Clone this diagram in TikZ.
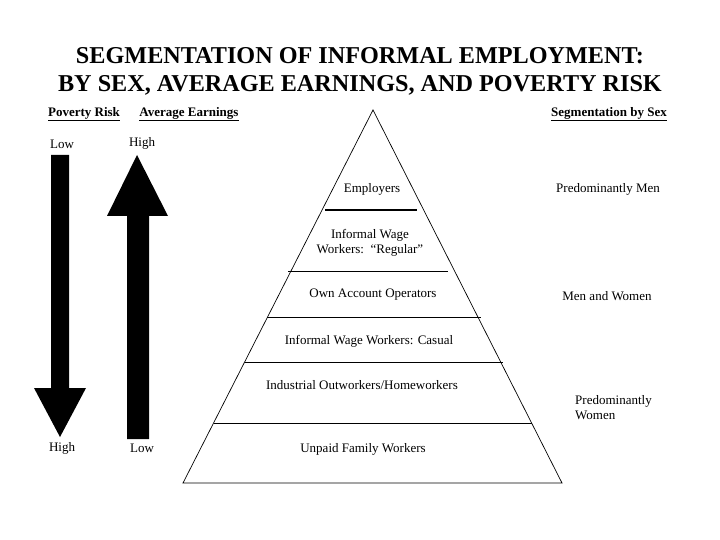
\documentclass[tikz,border=0pt]{standalone}
\usepackage{fontspec}
\setmainfont{Liberation Serif}
\begin{document}
\begin{tikzpicture}[x=1pt,y=-1pt,
  lbl/.style={inner sep=0pt,font=\fontsize{13}{15}\selectfont},
  hdr/.style={inner sep=0pt,font=\fontsize{13}{15}\selectfont\bfseries},
  ttl/.style={inner sep=0pt,font=\fontsize{24.2}{28}\selectfont\bfseries,anchor=base},
  pyr/.style={draw=black,line width=0.7pt},
  tier/.style={draw=black,line width=0.9pt},
  bigarrow/.style={fill=black,draw=none}]
\useasboundingbox (0,0) rectangle (720,540);
% title
\node[ttl] (t1) at (360,64) {SEGMENTATION OF INFORMAL EMPLOYMENT:};
\node[ttl] (t2) at (360,92) {BY SEX, AVERAGE EARNINGS, AND POVERTY RISK};
% column headers
\node[hdr] (h1) at (84,114) {\underline{Poverty Risk}};
\node[hdr] (h2) at (189,114) {\underline{Average Earnings}};
\node[hdr] (h3) at (609,114) {\underline{Segmentation by Sex}};
% arrow labels
\node[lbl] (lowA) at (62,144) {Low};
\node[lbl] (highA) at (142,143) {High};
\node[lbl] (highB) at (62,448) {High};
\node[lbl] (lowB) at (142,448) {Low};
% big arrows
\fill[bigarrow] (51,155) -- (69,155) -- (69,388) -- (86,388) -- (60,437) -- (34,388) -- (51,388) -- cycle;
\fill[bigarrow] (137,155) -- (168,216) -- (149,216) -- (149,439) -- (127,439) -- (127,216) -- (107,216) -- cycle;
% pyramid
\draw[pyr] (183,483) -- (373,110) -- (562,483) -- cycle;
\draw[line width=1.8pt] (325,210) -- (417,210);
\draw[tier] (288,271) -- (448,271);
\draw[tier] (267,317) -- (481,317);
\draw[tier] (245,362) -- (503,362);
\draw[tier] (214,423) -- (532,423);
% tier texts
\node[lbl] (emp) at (372,189) {Employers};
\node[lbl,align=center] (reg) at (370,243) {Informal Wage\\Workers:\ \ ``Regular''};
\node[lbl] (own) at (373,295) {Own Account Operators};
\node[lbl] (cas) at (369,341) {Informal Wage Workers: Casual};
\node[lbl] (ind) at (362,385) {Industrial Outworkers/Homeworkers};
\node[lbl] (unp) at (363,449) {Unpaid Family Workers};
% sex segmentation
\node[lbl] (men) at (608,189) {Predominantly Men};
\node[lbl] (mw) at (607,296) {Men and Women};
\node[lbl,anchor=west,align=left] (wom) at (575,408) {Predominantly\\Women};
\end{tikzpicture}
\end{document}
